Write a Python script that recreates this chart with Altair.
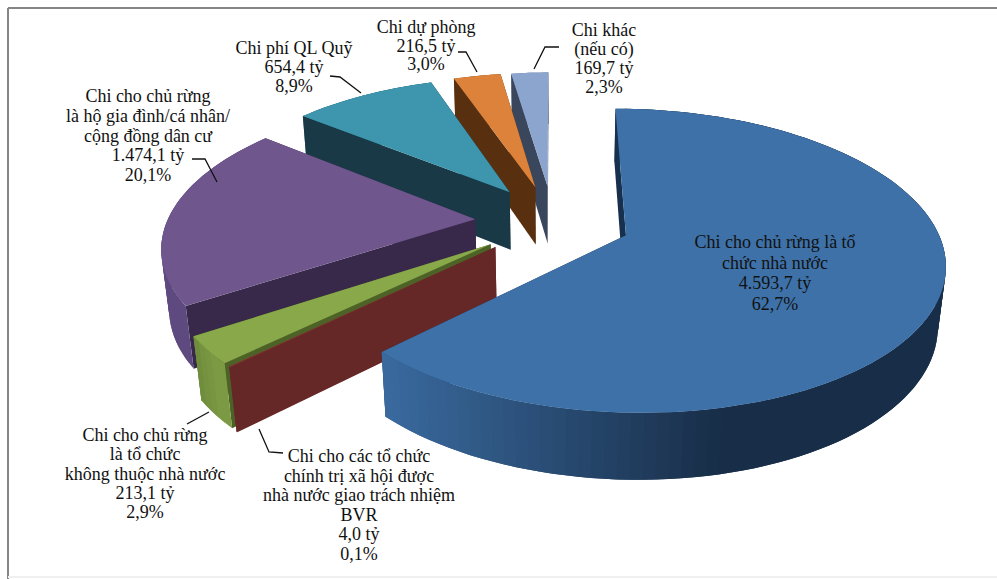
import math
import altair as alt

# Spending categories, clockwise from twelve o'clock
labels = [
    ["Chi cho chủ rừng là tổ", "chức nhà nước"],
    ["Chi cho các tổ chức", "chính trị xã hội được", "nhà nước giao trách nhiệm", "BVR"],
    ["Chi cho chủ rừng", "là tổ chức", "không thuộc nhà nước"],
    ["Chi cho chủ rừng", "là hộ gia đình/cá nhân/", "cộng đồng dân cư"],
    ["Chi phí QL Quỹ"],
    ["Chi dự phòng"],
    ["Chi khác", "(nếu có)"],
]
amounts = [4593.7, 4.0, 213.1, 1474.1, 654.4, 216.5, 169.7]
amount_text = ["4.593,7 tỷ", "4,0 tỷ", "213,1 tỷ", "1.474,1 tỷ", "654,4 tỷ", "216,5 tỷ", "169,7 tỷ"]
percent_text = ["62,7%", "0,1%", "2,9%", "20,1%", "8,9%", "3,0%", "2,3%"]

# Slice colours: top face, cut face, rim at its left end, rim at its right end
top_colors = ["#3E71A8", "#8C3A36", "#88A84A", "#6F568D", "#3D96AE", "#DC823A", "#8BA5CE"]
cut_colors = ["#17304E", "#662826", "#4D6226", "#38294A", "#183945", "#58300F", "#3A465C"]
rim_left = ["#3A6A9F", "#662826", "#6E8B3C", "#5F4A80", "#2C6E80", "#A8632B", "#6C81A3"]
rim_right = ["#182E48", "#662826", "#7B9A43", "#5F4A80", "#2C6E80", "#A8632B", "#6C81A3"]

# Annotation layout: centre x, first baseline row, line spacing per slice
label_anchor = [(775, 243, 20.7), (359, 457, 19.6), (145, 436, 19.3), (148, 97, 19.8),
                (294, 49, 19), (426, 28, 18.6), (604, 31, 19)]
leaders = [
    [],
    [(259, 429), (269, 452), (283, 453)],
    [(187, 424), (209, 412)],
    [(192, 159), (205, 159), (217, 182)],
    [(330, 76), (340, 77), (361, 93)],
    [(458, 52), (466, 52), (477, 72)],
    [(559, 47), (545, 47), (534, 69)],
]

# Perspective model of the pie
CX, CY = 553.0, 221.0
A, B, K = 308.0, 143.0, 0.165
EXPLODE = 0.253
DEPTH = 60.0
SINK = 0.02
STEP = 2.0


def project(px, py, low=False):
    w = 1 + K * py + (SINK if low else 0)
    x = CX + A * px / w
    y = CY - B * py / w + (DEPTH / w if low else 0)
    return [x, y]


def mix(c1, c2, t):
    a = [int(c1[i:i + 2], 16) for i in (1, 3, 5)]
    b = [int(c2[i:i + 2], 16) for i in (1, 3, 5)]
    return "#%02x%02x%02x" % tuple(round(p + (q - p) * t) for p, q in zip(a, b))


def face(points, fill):
    ring = points + [points[0]]
    return {"type": "Feature", "properties": {"fill": fill},
            "geometry": {"type": "Polygon", "coordinates": [ring]}}


total = sum(amounts)
spans = []
start = 0.0
for amount in amounts:
    sweep = 360.0 * amount / total
    spans.append((start, start + sweep))
    start += sweep

features = []
# Farther slices are painted first
for i in [6, 5, 4, 3, 2, 1, 0]:
    a0, a1 = spans[i]
    mid = math.radians((a0 + a1) / 2)
    ox, oy = EXPLODE * math.sin(mid), EXPLODE * math.cos(mid)
    n = max(1, int((a1 - a0) / STEP))
    angles = [a0 + (a1 - a0) * j / n for j in range(n + 1)]
    rim = [(ox + math.sin(math.radians(t)), oy + math.cos(math.radians(t))) for t in angles]

    xs = [project(*p)[0] for p in rim]
    lo, hi = min(xs), max(xs)
    back_strips, front_strips = [], []
    for j in range(n):
        # Each strip runs one step past its end; the next one paints over the overlap
        run = rim[j:j + 3]
        t = ((project(*rim[j])[0] + project(*rim[j + 1])[0]) / 2 - lo) / max(hi - lo, 1)
        strip = face([project(*p) for p in run] + [project(*p, True) for p in reversed(run)],
                     mix(rim_left[i], rim_right[i], min(1.0, t / 0.6)))
        facing_away = math.cos(math.radians((angles[j] + angles[j + 1]) / 2)) > 0
        (back_strips if facing_away else front_strips).append(strip)

    cuts = [face([project(ox, oy), project(*p), project(*p, True), project(ox, oy, True)], cut_colors[i])
            for p in (rim[0], rim[-1])]
    features += back_strips + cuts + front_strips
    features.append(face([project(ox, oy)] + [project(*p) for p in rim], top_colors[i]))

pie = (
    alt.Chart(alt.Data(values=features))
    .mark_geoshape(strokeWidth=0)
    .encode(fill=alt.Fill("properties.fill:N", scale=None))
    .project(type="identity", scale=1, translate=[0, 0])
)

text_rows = []
for i, (cx, y0, dy) in enumerate(label_anchor):
    for j, line in enumerate(labels[i] + [amount_text[i], percent_text[i]]):
        text_rows.append({"x": cx, "y": y0 + j * dy, "line": line})

leader_rows = []
for i, path in enumerate(leaders):
    for j, (x, y) in enumerate(path):
        leader_rows.append({"slice": i, "step": j, "x": x, "y": y})

x_scale = alt.Scale(domain=[0, 997], range=[0, 997])
y_scale = alt.Scale(domain=[0, 579], range=[0, 579])

text = (
    alt.Chart(alt.Data(values=text_rows))
    .mark_text(font="Liberation Serif", fontSize=18, color="#111111", align="center", baseline="middle")
    .encode(x=alt.X("x:Q", scale=x_scale, axis=None), y=alt.Y("y:Q", scale=y_scale, axis=None), text="line:N")
)

lines = (
    alt.Chart(alt.Data(values=leader_rows))
    .mark_line(color="#111111", strokeWidth=1.3)
    .encode(x=alt.X("x:Q", scale=x_scale, axis=None), y=alt.Y("y:Q", scale=y_scale, axis=None),
            detail="slice:N", order="step:Q")
)

# Page frame: dark top and left edges, a barely visible bottom edge
frame_rows = [
    {"x": 8, "y": 8, "x2": 997, "y2": 8, "tone": "#858585"},
    {"x": 8, "y": 8, "x2": 8, "y2": 579, "tone": "#858585"},
    {"x": 8, "y": 577, "x2": 997, "y2": 577, "tone": "#f0f0f0"},
]
frame = (
    alt.Chart(alt.Data(values=frame_rows))
    .mark_rule(strokeWidth=2)
    .encode(x=alt.X("x:Q", scale=x_scale, axis=None), x2="x2:Q",
            y=alt.Y("y:Q", scale=y_scale, axis=None), y2="y2:Q",
            color=alt.Color("tone:N", scale=None))
)

chart = (
    alt.layer(frame, pie, lines, text)
    .properties(width=997, height=579, padding=0, autosize=alt.AutoSizeParams(type="none"),
                background="white")
    .configure_view(stroke=None)
)
chart.save("out.html", embed_options={"renderer": "svg", "actions": False})
